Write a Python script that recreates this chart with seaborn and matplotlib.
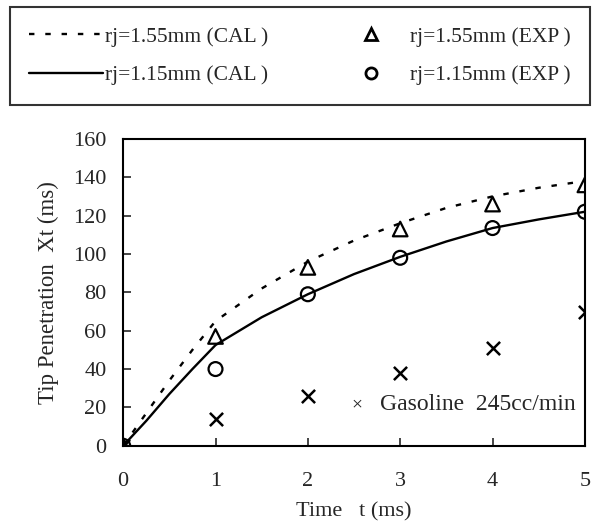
import matplotlib
matplotlib.use("Agg")
import matplotlib.pyplot as plt
import seaborn as sns
import pandas as pd
from matplotlib.lines import Line2D

# calculated curves
t_cal = [0, 0.25, 0.5, 0.75, 1, 1.5, 2, 2.5, 3, 3.5, 4, 4.5, 5]
cal_155 = [0, 17, 34, 50, 65, 82, 96, 107, 116, 124, 130, 134.5, 138]
cal_115 = [0, 13, 27, 40, 52.5, 67, 79, 89.5, 98.5, 106.5, 113.5, 118, 122]

# experimental points
t_exp = [0, 1, 2, 3, 4, 5]
exp_155 = [0, 57, 93, 113, 126, 136]
exp_115 = [0, 40, 79, 98, 113.5, 122]
gasoline = [0, 14, 26, 38, 51, 70]

xticks = [0, 1, 2, 3, 4, 5]
yticks = [0, 20, 40, 60, 80, 100, 120, 140, 160]

sns.set_style("ticks")
plt.rcParams['font.family'] = ['Liberation Serif', 'DejaVu Serif']

cal = pd.DataFrame({'t': t_cal, 'a': cal_155, 'b': cal_115})
exp = pd.DataFrame({'t': t_exp, 'a': exp_155, 'b': exp_115, 'g': gasoline})

dash = (0, (2.3, 4.6))

fig = plt.figure(figsize=(5.95, 5.22), dpi=100)
ax = fig.add_axes([0.207, 0.146, 0.776, 0.588])

sns.lineplot(data=cal, x='t', y='a', ax=ax, color='black', lw=1.7,
             linestyle=dash)
sns.lineplot(data=cal, x='t', y='b', ax=ax, color='black', lw=1.7)
sns.scatterplot(data=exp, x='t', y='a', ax=ax, marker='^', s=110,
                facecolor='none', edgecolor='black', linewidth=1.6, zorder=5)
sns.scatterplot(data=exp, x='t', y='b', ax=ax, marker='o', s=100,
                facecolor='none', edgecolor='black', linewidth=1.6, zorder=5)
sns.scatterplot(data=exp, x='t', y='g', ax=ax, marker='x', s=90,
                color='black', linewidth=1.8, zorder=5)

ax.set_xlim(0, 5)
ax.set_ylim(0, 160)
ax.set_xticks(xticks)
ax.set_yticks(yticks)
ax.tick_params(direction='in', length=6, width=1.2, labelsize=16)
ax.tick_params(axis='x', pad=19)
ax.tick_params(axis='y', pad=12)
for sp in ax.spines.values():
    sp.set_linewidth(1.5)
    sp.set_color('black')
ax.set_xlabel('Time   t (ms)', fontsize=16, labelpad=8)
ax.set_ylabel('Tip Penetration  Xt (ms)', fontsize=16.5)
ax.yaxis.set_label_coords(-0.139, 0.5)

ax.text(2.53, 21.4, '\u00d7', fontsize=14, ha='center', va='center')
ax.text(2.78, 21.4, 'Gasoline  245cc/min', fontsize=17, va='center')

handles = [
    Line2D([], [], color='black', lw=1.7, linestyle=dash),
    Line2D([], [], color='black', lw=1.7),
    Line2D([], [], marker='^', color='black', markerfacecolor='none',
           linestyle='none', markersize=9, markeredgewidth=2),
    Line2D([], [], marker='o', color='black', markerfacecolor='none',
           linestyle='none', markersize=8, markeredgewidth=2),
]
labels = ['rj=1.55mm (CAL\u2009)\u2002', 'rj=1.15mm (CAL\u2009)\u2002',
          'rj=1.55mm (EXP\u2009)', 'rj=1.15mm (EXP\u2009)']
leg = fig.legend(handles, labels, ncol=2, loc='center',
                 bbox_to_anchor=(0.0168, 0.8057, 0.975, 0.174), mode='expand',
                 fontsize=15.5, frameon=True, fancybox=False, edgecolor='black',
                 handlelength=3.4, handletextpad=0.1, labelspacing=0.85,
                 borderpad=0.9, borderaxespad=0)
leg.get_frame().set_linewidth(1.5)

fig.savefig('out.png', dpi=100)
